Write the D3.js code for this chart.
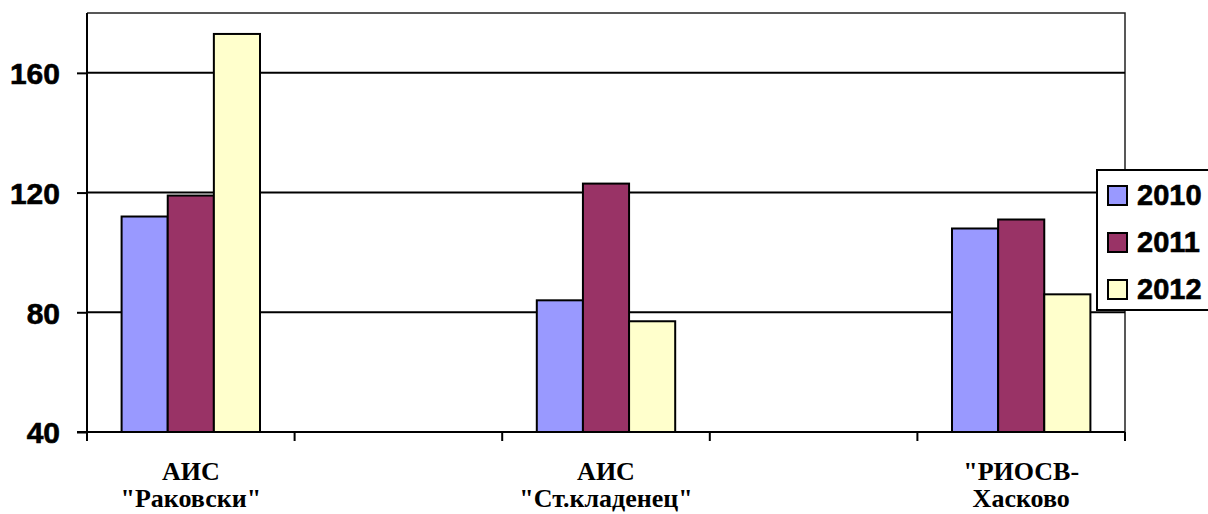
<!DOCTYPE html>
<html>
<head>
<meta charset="utf-8">
<script src="https://cdn.jsdelivr.net/npm/d3@7"></script>
<style>
  html, body { margin: 0; padding: 0; background: #fff; overflow: hidden; }
  svg { display: block; }
</style>
</head>
<body>
<script>
// Station labels (one line per array entry); empty slots keep the category spacing.
const categories = [
  ["АИС", "\"Раковски\""],
  [],
  ["АИС", "\"Ст.кладенец\""],
  [],
  ["\"РИОСВ-", "Хасково"]
];
const years = ["2010", "2011", "2012"];
const values2010 = [112, null, 84, null, 108];
const values2011 = [119, null, 123, null, 111];
const values2012 = [173, null, 77, null, 86];
const yTicks = [40, 80, 120, 160];
const colors = ["#9999FF", "#993366", "#FFFFCC"];

const SERIF = "'Liberation Serif', 'DejaVu Serif', serif";
const SANS = "'Liberation Sans', Arial, sans-serif";

const W = 1208, H = 514;
const plot = { left: 87, right: 1125, top: 13, bottom: 432 };

const svg = d3.select("body").append("svg")
  .attr("width", W).attr("height", H);

const x = d3.scaleBand()
  .domain(d3.range(categories.length))
  .range([plot.left, plot.right])
  .paddingInner(0).paddingOuter(0);

const y = d3.scaleLinear()
  .domain([40, 180])
  .range([plot.bottom, plot.top]);

// bars occupy 3 of 4.5 bar-widths in each category (gap = 1.5 bars)
const barW = x.bandwidth() / 4.5;
const xs = d3.scaleBand()
  .domain(years)
  .range([0.75 * barW, 3.75 * barW])
  .padding(0);

// plot frame (top and right edges)
svg.append("path")
  .attr("d", `M${plot.left},${plot.top}H${plot.right}V${plot.bottom}`)
  .attr("fill", "none")
  .attr("stroke", "#222")
  .attr("stroke-width", 1.5);

// horizontal gridlines
svg.append("g")
  .selectAll("line")
  .data(yTicks.filter(t => t > 40))
  .join("line")
  .attr("x1", plot.left).attr("x2", plot.right)
  .attr("y1", d => y(d)).attr("y2", d => y(d))
  .attr("stroke", "#000").attr("stroke-width", 2);

// bars
const series = [values2010, values2011, values2012];
series.forEach((vals, si) => {
  svg.append("g")
    .selectAll("rect")
    .data(vals.map((v, i) => ({ i, v })).filter(d => d.v != null))
    .join("rect")
    .attr("x", d => x(d.i) + xs(years[si]))
    .attr("width", xs.bandwidth())
    .attr("y", d => y(d.v))
    .attr("height", d => y(40) - y(d.v))
    .attr("fill", colors[si])
    .attr("stroke", "#000")
    .attr("stroke-width", 2);
});

// y axis
const yAxis = svg.append("g")
  .attr("transform", `translate(${plot.left},0)`)
  .call(d3.axisLeft(y).tickValues(yTicks).tickSize(10).tickPadding(17).tickFormat(d3.format("d")));
yAxis.select(".domain").attr("stroke", "#000").attr("stroke-width", 2)
  .attr("d", `M0,${plot.top}V${plot.bottom}`);
yAxis.selectAll(".tick line").attr("stroke", "#000").attr("stroke-width", 2);
yAxis.selectAll(".tick text")
  .style("font-family", SANS)
  .style("font-weight", "bold")
  .style("font-size", "30px")
  .attr("fill", "#000")
  .attr("stroke", "#000")
  .attr("stroke-width", 0.6)
  .attr("dy", "0.36em");

// x axis: ticks on category boundaries
const boundaries = d3.range(categories.length + 1).map(i =>
  i < categories.length ? x(i) : x(categories.length - 1) + x.bandwidth());
const xAxis = svg.append("g");
xAxis.append("line")
  .attr("x1", plot.left - 10).attr("x2", plot.right)
  .attr("y1", plot.bottom).attr("y2", plot.bottom)
  .attr("stroke", "#000").attr("stroke-width", 2);
xAxis.selectAll("line.tick")
  .data(boundaries)
  .join("line")
  .attr("class", "tick")
  .attr("x1", d => d).attr("x2", d => d)
  .attr("y1", plot.bottom).attr("y2", plot.bottom + 9)
  .attr("stroke", "#000").attr("stroke-width", 2);

// category labels
const labels = svg.append("g")
  .attr("text-anchor", "middle")
  .attr("fill", "#000");
categories.forEach((lines, i) => {
  if (!lines.length) return;
  const t = labels.append("text")
    .style("font-family", SERIF)
    .style("font-weight", "bold")
    .style("font-size", "26px");
  lines.forEach((ln, j) => {
    t.append("tspan")
      .attr("x", x(i) + x.bandwidth() / 2)
      .attr("y", 480 + j * 27)
      .text(ln);
  });
});

// legend
const legend = svg.append("g").attr("transform", "translate(1097,170)");
legend.append("rect")
  .attr("x", 0).attr("y", 0)
  .attr("width", 140).attr("height", 140)
  .attr("fill", "#fff")
  .attr("stroke", "#000").attr("stroke-width", 2);
const items = legend.selectAll("g.item")
  .data(years)
  .join("g")
  .attr("class", "item")
  .attr("transform", (d, i) => `translate(0,${25 + i * 47})`);
items.append("rect")
  .attr("x", 11).attr("y", -9)
  .attr("width", 19).attr("height", 19)
  .attr("fill", (d, i) => colors[i])
  .attr("stroke", "#000").attr("stroke-width", 2);
items.append("text")
  .attr("x", 40).attr("y", 0)
  .attr("dy", "0.36em")
  .style("font-family", SANS)
  .style("font-weight", "bold")
  .style("font-size", "29px")
  .attr("fill", "#000")
  .attr("stroke", "#000")
  .attr("stroke-width", 0.6)
  .text(d => d);
</script>
</body>
</html>
